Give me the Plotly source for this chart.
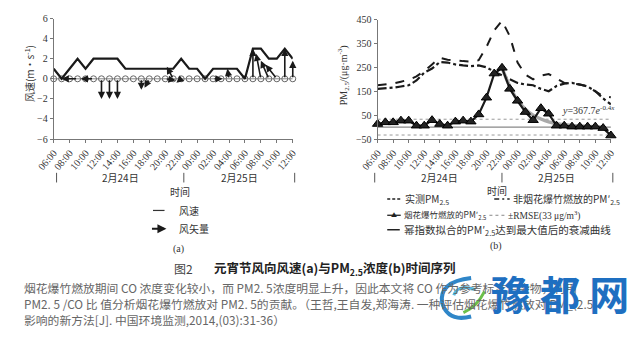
import plotly.graph_objects as go

W, H = 640, 337
def px(x): return x / W
def py(y): return 1 - y / H

SERIF = "Liberation Serif, Noto Sans CJK SC"
CJK = "Noto Sans CJK SC, Liberation Serif"

# ---------------- data ----------------
hours = list(range(31))  # 06:00 Feb 24 .. 12:00 Feb 25, hourly
tick_vals = list(range(0, 31, 2))
tick_text = ["06:00", "08:00", "10:00", "12:00", "14:00", "16:00", "18:00", "20:00",
             "22:00", "00:00", "02:00", "04:00", "06:00", "08:00", "10:00", "12:00"]

wind_speed = [1, 0, 1, 2, 1, 2, 2, 2, 2, 1, 1, 1, 1, 1, 1, 1, 2, 1, 1, 0, 1, 1, 1, 1, 0, 3, 3, 2, 2, 3, 2]
# wind vectors: start hour index, horizontal component (hour units), vertical component (m/s)
vec_hour = [3, 5, 6, 7, 8, 11, 12, 14, 15, 16, 20, 22, 25, 26, 27, 28, 29, 30]
vec_u = [-2.0, -1.6, 0, 0, 0, 0, -0.6, 1.3, -0.8, -0.6, 1.2, -0.2, 0, -0.6, -1.0, -1.4, 0, 0]
vec_v = [0, 0, -2.0, -2.0, -2.0, -1.1, -0.9, -0.15, 1.2, -0.4, 0, 1.0, 3.0, 2.5, 1.8, 1.4, 3.0, 1.8]

pm_measured = [175, 178, 182, 190, 198, 212, 235, 262, 290, 282, 278, 276, 274, 280, 335, 405,
               445, 380, 270, 220, 200, 215, 222, 205, 185, 182, 178, 170, 150, 130, 125]
pm_non_fw = [160, 162, 165, 170, 175, 195, 228, 245, 272, 270, 262, 258, 255, 258, 250, 232,
             215, 200, 185, 178, 175, 160, 150, 172, 182, 185, 178, 170, 150, 120, 95]
pm_fw = [13, 20, 20, 27, 27, 6, 6, 29, 13, 6, 23, 27, 23, 53, 123, 224,
         248, 160, 110, 63, 29, 79, 56, 6, 6, 2, 2, 2, 2, -4, -35]
fit_hours = list(range(16, 30))
fit_vals = [248, 170, 112, 75, 50, 34, 22, 15, 10, 7, 5, 3, 2, 1]
rmse = 33

fig = go.Figure()

# ---------------- panel (a) ----------------
fig.add_trace(go.Scatter(x=hours, y=[0] * len(hours), mode="lines+markers",
                         line=dict(color="#888", width=1),
                         marker=dict(symbol="circle-open", size=6, color="#666", line=dict(width=1)),
                         xaxis="x", yaxis="y", cliponaxis=False, showlegend=False))
fig.add_trace(go.Scatter(x=hours, y=wind_speed, mode="lines",
                         line=dict(color="#1a1a1a", width=2.2),
                         xaxis="x", yaxis="y", cliponaxis=False, showlegend=False))

annotations = []
for h, u, v in zip(vec_hour, vec_u, vec_v):
    annotations.append(dict(x=h + u, y=v, ax=h, ay=0, xref="x", yref="y", axref="x", ayref="y",
                            text="", showarrow=True, arrowhead=2, arrowsize=0.9, arrowwidth=1.6,
                            arrowcolor="#1a1a1a"))

# ---------------- panel (b) ----------------
fig.add_trace(go.Scatter(x=[hours[0], hours[-1]], y=[0, 0], mode="lines",
                         line=dict(color="#888", width=1.2), xaxis="x2", yaxis="y2", showlegend=False))
for s in (1, -1):
    fig.add_trace(go.Scatter(x=[hours[0], hours[-1]], y=[s * rmse, s * rmse], mode="lines",
                             line=dict(color="#999", width=1, dash="dot"),
                             xaxis="x2", yaxis="y2", showlegend=False))
fig.add_trace(go.Scatter(x=hours, y=pm_measured, mode="lines",
                         line=dict(color="#1a1a1a", width=2, dash="dash"),
                         xaxis="x2", yaxis="y2", showlegend=False))
fig.add_trace(go.Scatter(x=hours, y=pm_non_fw, mode="lines",
                         line=dict(color="#1a1a1a", width=2.2, dash="dashdot"),
                         xaxis="x2", yaxis="y2", showlegend=False))
fig.add_trace(go.Scatter(x=fit_hours, y=fit_vals, mode="lines",
                         line=dict(color="#aaa", width=3.5, shape="spline"),
                         xaxis="x2", yaxis="y2", showlegend=False))
fig.add_trace(go.Scatter(x=hours, y=pm_fw, mode="lines+markers",
                         line=dict(color="#1a1a1a", width=2.2),
                         marker=dict(symbol="triangle-up", size=9, color="#222",
                                     line=dict(color="#000", width=1)),
                         xaxis="x2", yaxis="y2", cliponaxis=False, showlegend=False))

axis_common = dict(showgrid=False, zeroline=False, showline=True, linecolor="#777", linewidth=1,
                   ticks="outside", ticklen=3, tickcolor="#777",
                   tickfont=dict(family=SERIF, size=10, color="#333"))

fig.update_layout(
    width=W, height=H, margin=dict(l=0, r=0, t=0, b=0),
    paper_bgcolor="white", plot_bgcolor="white",
    xaxis=dict(domain=[px(37), px(285)], range=[0, 30], tickvals=tick_vals, ticktext=tick_text,
               tickangle=-50, anchor="y", **axis_common),
    yaxis=dict(domain=[py(138), py(13)], range=[-6, 6], tickvals=[-6, -4, -2, 0, 2, 4, 6],
               anchor="x", **axis_common),
    xaxis2=dict(domain=[px(373), px(615)], range=[0, 30], tickvals=tick_vals, ticktext=tick_text,
                tickangle=-50, anchor="y2", **axis_common),
    yaxis2=dict(domain=[py(138), py(14)], range=[-50, 450], tickvals=[-50, 50, 150, 250, 350, 450],
                anchor="x2", **axis_common),
)

def txt(x, y, s, size=10, family=CJK, color="#333", xanchor="center", angle=0, **kw):
    annotations.append(dict(x=px(x), y=py(y), xref="paper", yref="paper", text=s, showarrow=False,
                            font=dict(family=family, size=size, color=color), xanchor=xanchor,
                            yanchor="middle", textangle=angle, **kw))

shapes = []
def hline(x0, x1, y, color="#333", width=1.2, dash=None):
    ln = dict(color=color, width=width)
    if dash:
        ln["dash"] = dash
    shapes.append(dict(type="line", xref="paper", yref="paper", x0=px(x0), x1=px(x1),
                       y0=py(y), y1=py(y), line=ln))
def vline(x, y0, y1, color="#555", width=1):
    shapes.append(dict(type="line", xref="paper", yref="paper", x0=px(x), x1=px(x),
                       y0=py(y0), y1=py(y1), line=dict(color=color, width=width)))

# axis titles
txt(12, 70, "风速(m·s<sup>-1</sup>)", size=10, angle=-90)
txt(338, 72, "PM<sub>2.5</sub>/(μg·m<sup>-3</sup>)", size=10, family=SERIF, angle=-90)
txt(592, 108, "<i>y</i>=367.7<i>e</i><sup>-0.4<i>x</i></sup>", size=10, family=SERIF)

# date rows
for x in (40, 172, 287):
    vline(x, 173, 183)
for x in (370, 502, 617):
    vline(x, 173, 183)
txt(106, 178, "2月24日", size=10)
txt(230, 178, "2月25日", size=10)
txt(437, 178, "2月24日", size=10)
txt(559, 178, "2月25日", size=10)
txt(168, 192, "时间", size=10)
txt(497, 191, "时间", size=10)

# legend (a)
hline(140, 152, 212, color="#333", width=1.2)
txt(165, 212, "风速", size=10, xanchor="left")
annotations.append(dict(x=px(154), y=py(231), xref="paper", yref="paper", ax=-16, ay=0,
                        text="", showarrow=True, arrowhead=2, arrowsize=1, arrowwidth=1.8,
                        arrowcolor="#1a1a1a"))
txt(165, 231, "风矢量", size=10, xanchor="left")
txt(167, 252, "(a)", size=10, family=SERIF)

# legend (b)
hline(383, 397, 200, color="#222", width=1.5, dash="3px,2px")
txt(399, 200, "实测PM<sub>2.5</sub>", size=10, xanchor="left")
hline(494, 510, 200, color="#222", width=1.5, dash="5px,3px,2px,3px")
txt(511, 200, "非烟花爆竹燃放的PM′<sub>2.5</sub>", size=10, xanchor="left")
hline(383, 397, 217, color="#222", width=1.3)
txt(390, 216.5, "▲", size=6, color="#222")
txt(398, 217, "烟花爆竹燃放的PM′<sub>2.5</sub>", size=8.5, xanchor="left")
hline(489, 505, 217, color="#888", width=1, dash="dot")
txt(506, 217, "±RMSE(33 μg/m<sup>3</sup>)", size=9.5, family=SERIF, xanchor="left")
hline(383, 396, 232, color="#222", width=1.5)
txt(398, 232, "幂指数拟合的PM′<sub>2.5</sub>达到最大值后的衰减曲线", size=10.5, xanchor="left")
txt(496, 249, "(b)", size=10, family=SERIF)

# caption
txt(172, 272, "图2", size=12, color="#444")
txt(201, 272, "<b>元宵节风向风速(a)与PM<sub>2.5</sub>浓度(b)时间序列</b>", size=12.5,
    color="#222", xanchor="left")

# paragraph
para = [
    "烟花爆竹燃放期间 CO 浓度变化较小，而 PM2. 5浓度明显上升，因此本文将 CO 作为参考标准污染物，利用",
    "PM2. 5 /CO 比 值分析烟花爆竹燃放对 PM2. 5的贡献。（王哲,王自发,郑海涛. 一种评估烟花爆竹燃放对 PM_(2.5)",
    "影响的新方法[J]. 中国环境监测,2014,(03):31-36）",
]
for i, line in enumerate(para):
    txt(4, 292 + 16.5 * i, line, size=11.8, color="#666", xanchor="left")

# watermark logo + text
shapes.append(dict(type="path", xref="paper", yref="paper",
                   path="M {:.4f},{:.4f} Q {:.4f},{:.4f} {:.4f},{:.4f} Q {:.4f},{:.4f} {:.4f},{:.4f}".format(
                       px(470), py(282), px(436), py(286), px(440), py(308),
                       px(446), py(328), px(470), py(322)),
                   line=dict(color="#2f86c8", width=4)))
shapes.append(dict(type="path", xref="paper", yref="paper",
                   path="M {:.4f},{:.4f} Q {:.4f},{:.4f} {:.4f},{:.4f}".format(
                       px(452), py(300), px(456), py(288), px(474), py(294)),
                   line=dict(color="#55b7e0", width=3)))
shapes.append(dict(type="path", xref="paper", yref="paper",
                   path="M {:.4f},{:.4f} Q {:.4f},{:.4f} {:.4f},{:.4f}".format(
                       px(462), py(318), px(476), py(312), px(484), py(296)),
                   line=dict(color="#6cc04a", width=3)))
txt(562, 298, "<b>豫 都 网</b>", size=40, color="#1e6fc1")

fig.update_layout(annotations=annotations, shapes=shapes)
fig.write_html("out.html")
